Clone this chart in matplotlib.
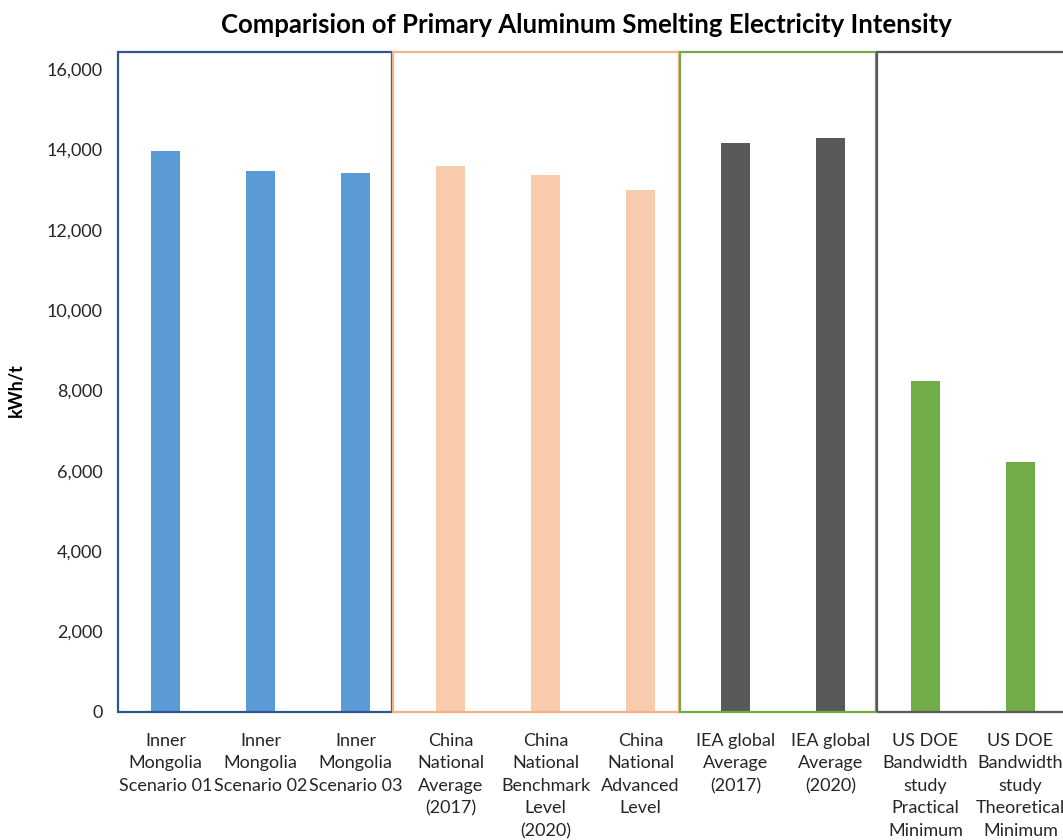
import matplotlib
matplotlib.use('Agg')
import matplotlib.pyplot as plt
from matplotlib.patches import Rectangle
from matplotlib.ticker import FuncFormatter
import numpy as np

categories = [
    'Inner\nMongolia\nScenario 01',
    'Inner\nMongolia\nScenario 02',
    'Inner\nMongolia\nScenario 03',
    'China\nNational\nAverage\n(2017)',
    'China\nNational\nBenchmark\nLevel\n(2020)',
    'China\nNational\nAdvanced\nLevel',
    'IEA global\nAverage\n(2017)',
    'IEA global\nAverage\n(2020)',
    'US DOE\nBandwidth\nstudy\nPractical\nMinimum',
    'US DOE\nBandwidth\nstudy\nTheoretical\nMinimum',
]
values = [13950, 13450, 13400, 13580, 13350, 13000, 14150, 14280, 8230, 6230]
bar_colors = ['#5B9BD5'] * 3 + ['#F8CBAD'] * 3 + ['#595959'] * 2 + ['#70AD47'] * 2
yticks = [0, 2000, 4000, 6000, 8000, 10000, 12000, 14000, 16000]

# group frames: (left, right, edge colour)
groups = [(-0.5, 2.385, '#2F5597'),
          (2.395, 5.405, '#F4B183'),
          (5.415, 7.48, '#70AD47'),
          (7.49, 10.2, '#595959')]

plt.rcParams['font.family'] = ['Lato', 'DejaVu Sans']

fig = plt.figure(figsize=(10.63, 8.4), dpi=100)
ax = fig.add_axes([118 / 1063, 128 / 840, 950 / 1063, 643 / 840])

x = np.arange(len(categories))
ax.bar(x, values, width=0.31, color=bar_colors, zorder=2)

ax.set_xlim(-0.5, len(categories) - 0.5)
ax.set_ylim(0, 16000)
ax.set_yticks(yticks)
ax.yaxis.set_major_formatter(FuncFormatter(lambda v, p: f'{int(v):,}'))
ax.set_xticks(x)
ax.set_xticklabels(categories, linespacing=1.5)
ax.tick_params(axis='both', length=0, labelsize=13, colors='#262626')
ax.tick_params(axis='y', pad=11)
ax.tick_params(axis='x', pad=15)
for s in ax.spines.values():
    s.set_visible(False)

for left, right, col in groups:
    ax.add_patch(Rectangle((left, 0), right - left, 16420, fill=False,
                           edgecolor=col, linewidth=1.6, clip_on=False, zorder=3))

ax.set_ylabel('kWh/t', fontsize=13, fontweight='bold')
ax.yaxis.set_label_coords(-0.098, 0.5)
fig.text(586 / 1063, 1 - 25 / 840,
         'Comparision of Primary Aluminum Smelting Electricity Intensity',
         ha='center', va='center', fontsize=18.5, fontweight='bold')

fig.savefig('out.png', dpi=100)
